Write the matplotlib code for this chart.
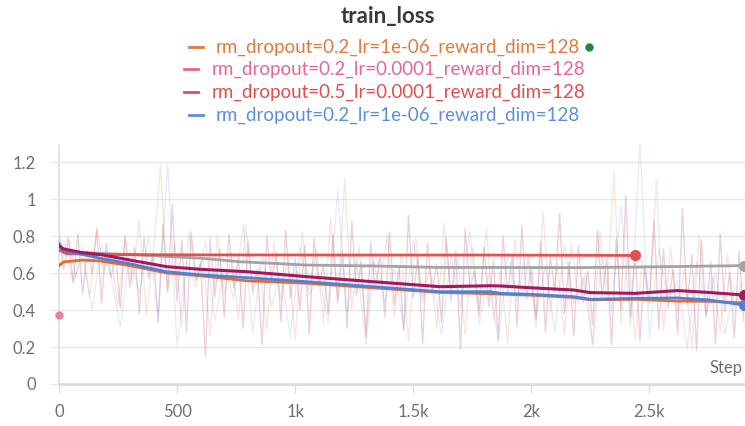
import numpy as np
import matplotlib.pyplot as plt
from matplotlib.lines import Line2D
from matplotlib.ticker import FixedLocator, FuncFormatter

plt.rcParams['font.family'] = ['Lato', 'DejaVu Sans']

# raw (unsmoothed) losses
maroon_raw_steps = np.arange(0, 2901, 20)
maroon_raw = [
    0.84, 0.62, 0.78, 0.55, 0.81, 0.49, 0.72, 0.60, 0.83, 0.44,
    0.76, 0.58, 0.69, 0.41, 0.80, 0.52, 0.74, 0.38, 0.79, 0.57,
    0.71, 0.33, 0.86, 0.50, 0.97, 0.45, 0.78, 0.28, 0.82, 0.56,
    0.66, 0.15, 0.79, 0.47, 0.73, 0.36, 0.81, 0.52, 0.69, 0.30,
    0.77, 0.49, 0.62, 0.21, 0.80, 0.55, 0.71, 0.34, 0.83, 0.46,
    0.68, 0.40, 0.75, 0.27, 0.79, 0.53, 0.64, 0.38, 0.81, 0.44,
    0.72, 0.30, 0.88, 0.48, 0.66, 0.25, 0.77, 0.51, 0.70, 0.36,
    0.82, 0.43, 0.63, 0.29, 0.91, 0.47, 0.69, 0.22, 0.76, 0.50,
    0.65, 0.33, 0.79, 0.45, 0.72, 0.19, 0.84, 0.52, 0.61, 0.37,
    0.74, 0.42, 0.67, 0.24, 0.80, 0.49, 0.70, 0.31, 0.86, 0.46,
    0.63, 0.35, 0.77, 0.28, 0.69, 0.50, 0.92, 0.38, 0.66, 0.26,
    0.75, 0.44, 0.61, 0.32, 0.83, 0.47, 0.68, 0.21, 0.79, 0.40,
    1.02, 0.36, 0.71, 0.23, 0.64, 0.45, 0.88, 0.30, 0.73, 0.41,
    0.62, 0.27, 0.95, 0.43, 0.70, 0.18, 0.78, 0.37, 0.66, 0.22,
    0.81, 0.39, 0.60, 0.25, 0.72, 0.34,
]

orange_raw_steps = np.arange(10, 2901, 30)
orange_raw = [
    0.66, 0.80, 0.58, 0.74, 0.47, 0.85, 0.61, 0.70, 0.42, 0.79,
    0.55, 0.88, 0.37, 0.72, 1.18, 0.50, 0.76, 0.31, 0.83, 0.57,
    0.68, 0.26, 0.80, 0.48, 0.71, 0.35, 0.86, 0.53, 0.64, 0.29,
    0.77, 0.45, 0.69, 0.24, 0.82, 0.51, 0.73, 0.33, 0.90, 0.46,
    1.11, 0.40, 0.75, 0.28, 0.66, 0.52, 0.81, 0.36, 0.70, 0.23,
    0.79, 0.44, 0.63, 0.30, 0.87, 0.49, 0.67, 0.27, 0.74, 0.41,
    0.84, 0.34, 0.62, 0.22, 0.78, 0.47, 0.69, 0.31, 0.93, 0.39,
    0.65, 0.26, 0.76, 0.43, 0.60, 0.20, 0.82, 0.45, 1.15, 0.33,
    0.71, 0.24, 0.67, 0.42, 1.10, 0.29, 0.74, 0.38, 0.63, 0.19,
    0.80, 0.36, 0.58, 0.28, 0.70, 0.41, 0.55,
]

blue_raw_steps = np.arange(20, 2901, 40)
blue_raw = [
    0.78, 0.55, 0.69, 0.40, 0.75, 0.58, 0.31, 0.72, 0.49, 0.80,
    0.36, 1.19, 0.20, 0.66, 0.52, 0.77, 0.34, 0.63, 0.46, 0.86,
    0.28, 0.70, 0.42, 0.61, 0.25, 0.74, 0.48, 0.59, 0.33, 1.05,
    0.39, 0.67, 0.21, 0.72, 0.44, 0.62, 0.30, 0.78, 0.47, 0.57,
    0.26, 0.69, 0.41, 0.83, 0.32, 0.60, 0.23, 0.71, 0.45, 0.71,
    0.37, 0.64, 0.28, 0.75, 0.43, 0.58, 0.22, 0.69, 0.40, 0.96,
    0.31, 1.30, 0.25, 0.73, 0.44, 0.56, 0.19, 0.66, 0.38, 0.60,
    0.27, 0.52, 0.41,
]

# smoothed curves
smooth_steps = [0, 20, 100, 174, 300, 457, 600, 796, 1050, 1331,
                1614, 1826, 1869, 2000, 2180, 2250, 2441, 2619, 2750, 2900]
maroon = [0.745, 0.73, 0.71, 0.70, 0.67, 0.634, 0.62, 0.607, 0.58, 0.553,
          0.526, 0.531, 0.53, 0.52, 0.508, 0.494, 0.49, 0.505, 0.495, 0.481]
blue = [0.76, 0.72, 0.70, 0.68, 0.65, 0.607, 0.59, 0.575, 0.553, 0.526,
        0.499, 0.499, 0.49, 0.485, 0.472, 0.458, 0.463, 0.465, 0.455, 0.427]
orange = [0.64, 0.66, 0.67, 0.665, 0.64, 0.60, 0.585, 0.558, 0.545, 0.52,
          0.495, 0.488, 0.486, 0.48, 0.468, 0.455, 0.458, 0.448, 0.447, 0.438]

red_steps = [0, 30, 150, 600, 1200, 1800, 2441]
red = [0.725, 0.705, 0.70, 0.698, 0.697, 0.697, 0.695]

gray_steps = [0, 100, 300, 600, 767, 1050, 1331, 1614, 1826, 2180, 2441, 2900]
gray = [0.72, 0.71, 0.70, 0.68, 0.661, 0.643, 0.638, 0.63, 0.63, 0.629, 0.632, 0.64]

pink_point = (0, 0.373)

legend_labels = [
    'rm_dropout=0.2_lr=1e-06_reward_dim=128',
    'rm_dropout=0.2_lr=0.0001_reward_dim=128',
    'rm_dropout=0.5_lr=0.0001_reward_dim=128',
    'rm_dropout=0.2_lr=1e-06_reward_dim=128',
]
legend_colors = ['#e2793f', '#e46796', '#df4f4f', '#5b8fe0']

c_maroon = '#a3185b'
c_blue = '#4d82da'
c_orange = '#df6d32'
c_red = '#e05252'
c_gray = '#a3a3a3'
tick_c = '#6e6e78'
grid_c = '#e8e8ec'

fig = plt.figure(figsize=(7.45, 4.26), dpi=100)
ax = fig.add_axes([59 / 745, 42 / 426, 686 / 745, 239 / 426])

# faint raw traces
ax.plot(maroon_raw_steps, maroon_raw, color=c_maroon, alpha=0.2, lw=1, zorder=1)
ax.plot(orange_raw_steps, orange_raw, color=c_orange, alpha=0.17, lw=1, zorder=1)
ax.plot(blue_raw_steps, blue_raw, color=c_blue, alpha=0.14, lw=1, zorder=1)

# smoothed lines
ax.plot(gray_steps, gray, color=c_gray, lw=2, zorder=3)
ax.plot(red_steps, red, color=c_red, lw=2, zorder=3)
ax.plot(smooth_steps, orange, color=c_orange, lw=2, zorder=4)
ax.plot(smooth_steps, blue, color=c_blue, lw=2, zorder=5)
ax.plot(smooth_steps, maroon, color=c_maroon, lw=2.2, zorder=6)

# end markers
ax.plot(red_steps[-1], red[-1], 'o', color=c_red, ms=7, zorder=7)
ax.plot(gray_steps[-1], gray[-1], 'o', color=c_gray, ms=7, zorder=7)
ax.plot(smooth_steps[-1], maroon[-1], 'o', color=c_maroon, ms=7, zorder=7)
ax.plot(smooth_steps[-1], blue[-1], 'o', color=c_blue, ms=7, zorder=7)
ax.plot(pink_point[0], pink_point[1], 'o', color='#ec7ea3', ms=5, zorder=7, clip_on=False)

ax.set_xlim(0, 2905)
ax.set_ylim(0, 1.292)

ax.yaxis.set_major_locator(FixedLocator([0, 0.2, 0.4, 0.6, 0.8, 1.0, 1.2]))
ax.yaxis.set_major_formatter(FuncFormatter(lambda v, p: '0' if v == 0 else ('1' if v == 1 else f'{v:.1f}')))
ax.xaxis.set_major_locator(FixedLocator([0, 500, 1000, 1500, 2000, 2500]))
ax.xaxis.set_major_formatter(FuncFormatter(lambda v, p: '0' if v == 0 else (f'{int(v)}' if v < 1000 else f'{v / 1000:g}k')))

ax.grid(axis='y', color=grid_c, lw=1)
ax.set_axisbelow(True)
ax.tick_params(axis='y', length=6.5, color=grid_c, labelcolor=tick_c, labelsize=12, pad=10)
ax.tick_params(axis='x', length=6.5, width=1, color='#dcdce0', labelcolor=tick_c, labelsize=12, pad=8)

for s in ['top', 'right']:
    ax.spines[s].set_visible(False)
ax.spines['left'].set_color('#e2e2e6')
ax.spines['left'].set_linewidth(1.3)
ax.spines['bottom'].set_color('#dcdce0')
ax.spines['bottom'].set_linewidth(2)

ax.text((742 - 59) / 686, 16 / 239, 'Step', transform=ax.transAxes,
        ha='right', va='center', fontsize=12, color=tick_c)

fig.text(388 / 745, 1 - 16 / 426, 'train_loss', ha='center', va='center',
         fontsize=16, fontweight='bold', color='#3a3a3a')

# legend, each row centred on its own
renderer = fig.canvas.get_renderer()
rows_y = [47, 69, 92, 115]
for i, (lab, col) in enumerate(zip(legend_labels, legend_colors)):
    yf = 1 - rows_y[i] / 426
    t = fig.text(398 / 745, yf, lab, ha='center', va='center', fontsize=13.5, color=col)
    bb = t.get_window_extent(renderer)
    x0 = bb.x0 - 27
    fig.add_artist(Line2D([x0 / 745, (x0 + 14) / 745], [yf, yf], color=col, lw=2))
    if i == 0:
        fig.add_artist(Line2D([(bb.x1 + 9) / 745], [yf], marker='o', color='#1a8a3a', ms=5))

fig.savefig('out.png', dpi=100)
